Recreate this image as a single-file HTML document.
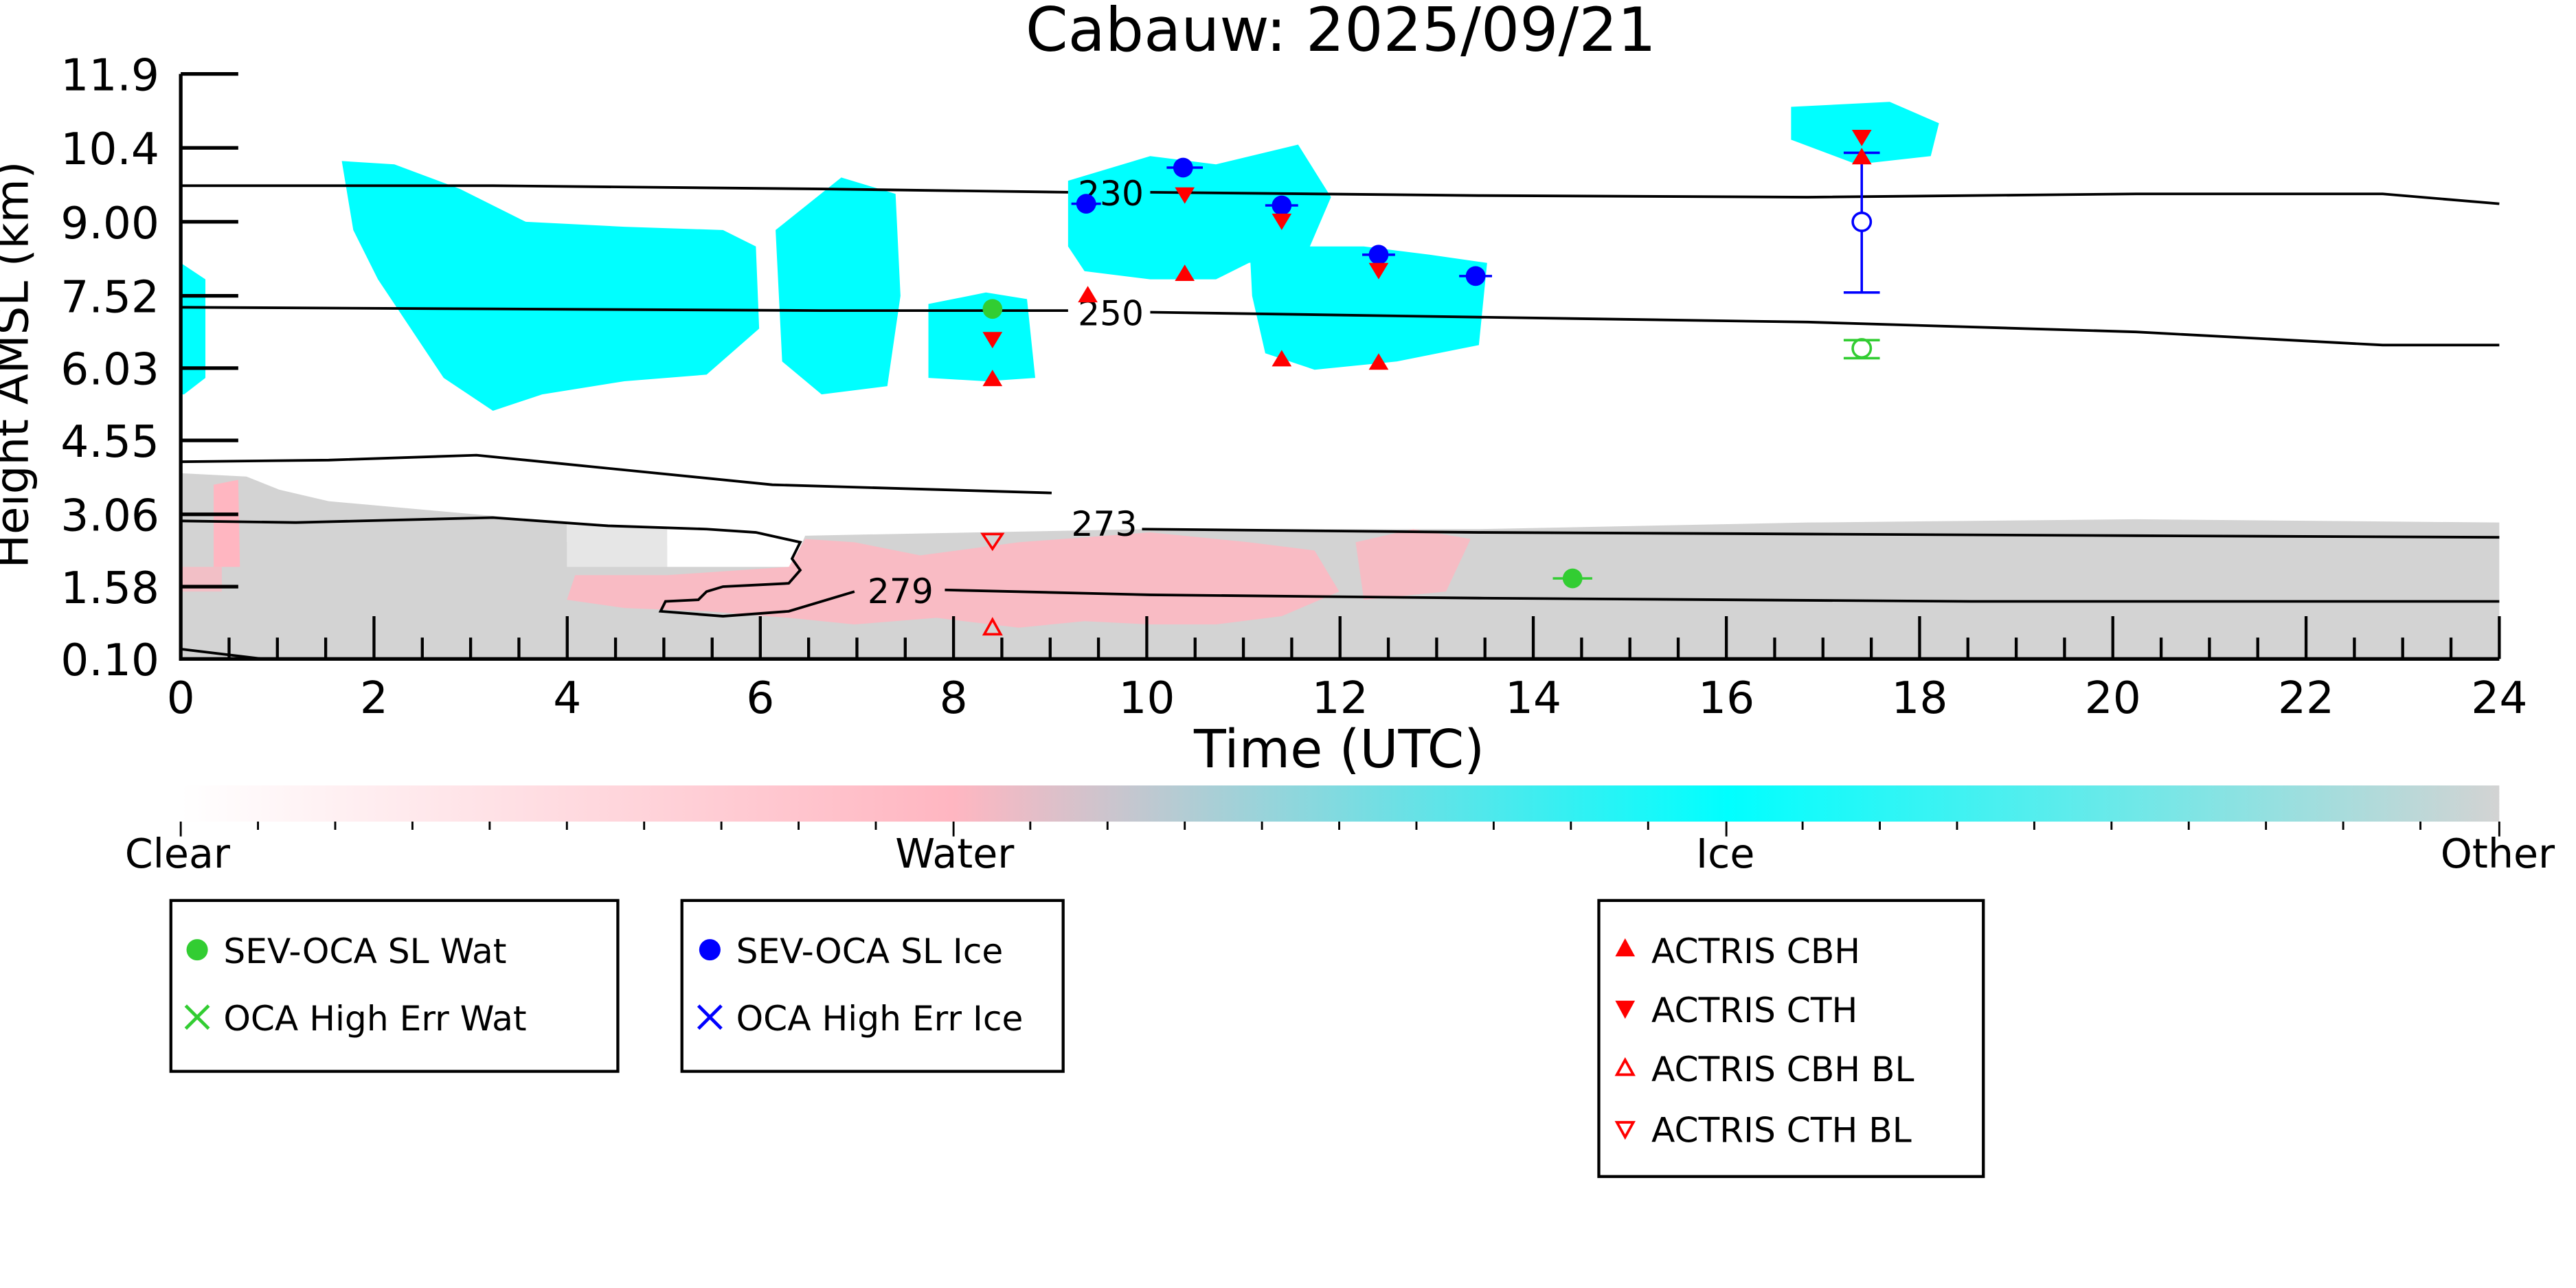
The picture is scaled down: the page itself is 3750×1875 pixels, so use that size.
<!DOCTYPE html>
<html><head><meta charset="utf-8"><style>html,body{margin:0;padding:0;background:#fff}svg{display:block}</style></head><body>
<svg width="3750" height="1875" viewBox="0 0 1562.5 781.25" xmlns="http://www.w3.org/2000/svg" font-family="'DejaVu Sans','Liberation Sans',sans-serif">
<defs>
<linearGradient id="cb" x1="0" x2="1" y1="0" y2="0">
<stop offset="0" stop-color="#ffffff"/><stop offset="0.333" stop-color="#ffb6c1"/><stop offset="0.667" stop-color="#00ffff"/><stop offset="1" stop-color="#d3d3d3"/>
</linearGradient>
</defs>
<g transform="scale(0.9967)">
<text x="816" y="31" font-size="37" text-anchor="middle">Cabauw: 2025/09/21</text>
<!-- gray BL -->
<path d="M110,288 L150,290 L170,298 L200,305 L345,318 L345,330 L406,332 L406,345 L482,345 L490,326 L700,322 L900,322 L1100,318 L1300,316 L1521,318 L1521,401 L110,401 Z" fill="#d3d3d3"/>
<path d="M345,318 L406,322 L406,345 L345,345 Z" fill="#e6e6e6"/>
<path d="M406,350 L480,345 L490,328 L520,330 L560,338 L620,330 L700,324 L760,330 L800,335 L815,360 L780,375 L740,380 L700,380 L660,378 L620,382 L570,376 L520,380 L480,376 L430,372 L380,370 L345,365 L350,350 Z" fill="#ffb6c1" opacity="0.85"/>
<path d="M130,295 L145,292 L146,345 L130,345 Z" fill="#ffb6c1"/>
<path d="M110,345 L135,345 L135,360 L110,360 Z" fill="#ffb6c1" opacity="0.7"/>
<path d="M825,330 L860,322 L895,328 L880,360 L830,365 Z" fill="#ffb6c1" opacity="0.8"/>
<!-- cyan clouds -->
<path d="M110,160 L125,170 L125,230 L112,240 L110,240 Z" fill="#00ffff"/>
<path d="M208,98 L240,100 L280,115 L320,135 L380,138 L440,140 L460,150 L462,200 L430,228 L380,232 L330,240 L300,250 L270,230 L250,200 L230,170 L215,140 Z" fill="#00ffff"/>
<path d="M472,140 L512,108 L545,118 L548,180 L540,235 L500,240 L476,220 Z" fill="#00ffff"/>
<path d="M565,185 L600,178 L625,182 L630,230 L600,232 L565,230 Z" fill="#00ffff"/>
<path d="M650,110 L700,95 L740,100 L790,88 L810,120 L795,155 L760,160 L740,170 L700,170 L660,165 L650,150 Z" fill="#00ffff"/>
<path d="M760,140 L790,150 L830,150 L870,155 L905,160 L900,210 L850,220 L800,225 L770,215 L762,180 Z" fill="#00ffff"/>
<path d="M1090,65 L1150,62 L1180,75 L1175,95 L1130,100 L1090,85 Z" fill="#00ffff"/>
<!-- contours -->
<g fill="none" stroke="#000" stroke-width="1.6">
<path d="M110,113 L300,113 L500,115 L650,117 M700,117 L900,119 L1100,120 L1300,118 L1450,118 L1521,124"/>
<path d="M110,187 L300,188 L500,189 L650,189 M700,190 L900,193 L1100,196 L1300,202 L1450,210 L1521,210"/>
<path d="M110,281 L200,280 L290,277 L340,282 L470,295 L640,300 M695,322 L900,324 L1100,325 L1300,326 L1521,327"/>
<path d="M110,317 L180,318 L300,315 L370,320 L430,322 L460,324 L487,330 L482,340 L487,347 L480,355 L440,357 L430,360 L425,365 L405,366 L402,372 L440,375 L480,372 L520,360"/>
<path d="M575,359 L700,362 L900,364 L1200,366 L1521,366"/>
<path d="M110,395 L160,401"/>
</g>
<g font-size="21" text-anchor="middle">
<text x="676" y="125">230</text><text x="676" y="198">250</text><text x="672" y="326">273</text><text x="548" y="367">279</text>
</g>
<!-- axes -->
<g stroke="#000" stroke-width="2.2">
<line x1="110" y1="45" x2="110" y2="402"/><line x1="109" y1="401" x2="1521" y2="401"/>
<line x1="110" y1="45" x2="145" y2="45"/><line x1="110" y1="90" x2="145" y2="90"/><line x1="110" y1="135" x2="145" y2="135"/><line x1="110" y1="180" x2="145" y2="180"/><line x1="110" y1="224" x2="145" y2="224"/><line x1="110" y1="268" x2="145" y2="268"/><line x1="110" y1="313" x2="145" y2="313"/><line x1="110" y1="357" x2="145" y2="357"/>
</g>
<g stroke="#000" stroke-width="1.8">
<path d="M227.6,375V401M345.2,375V401M462.7,375V401M580.3,375V401M697.9,375V401M815.5,375V401M933.1,375V401M1050.6,375V401M1168.2,375V401M1285.8,375V401M1403.4,375V401M1521,375V401"/>
<path d="M139.4,388V401M168.8,388V401M198.2,388V401M257,388V401M286.4,388V401M315.8,388V401M374.6,388V401M404,388V401M433.4,388V401M492.1,388V401M521.5,388V401M550.9,388V401M609.7,388V401M639.1,388V401M668.5,388V401M727.3,388V401M756.7,388V401M786.1,388V401M844.9,388V401M874.3,388V401M903.7,388V401M962.5,388V401M991.9,388V401M1021.3,388V401M1080,388V401M1109.4,388V401M1138.8,388V401M1197.6,388V401M1227,388V401M1256.4,388V401M1315.2,388V401M1344.6,388V401M1374,388V401M1432.8,388V401M1462.2,388V401M1491.6,388V401"/>
</g>
<g font-size="27" text-anchor="end">
<text x="97" y="55">11.9</text><text x="97" y="100">10.4</text><text x="97" y="145">9.00</text><text x="97" y="190">7.52</text><text x="97" y="234">6.03</text><text x="97" y="278">4.55</text><text x="97" y="323">3.06</text><text x="97" y="367">1.58</text><text x="97" y="411">0.10</text>
</g>
<g font-size="27" text-anchor="middle">
<text x="110" y="434">0</text><text x="227.6" y="434">2</text><text x="345.2" y="434">4</text><text x="462.7" y="434">6</text><text x="580.3" y="434">8</text><text x="697.9" y="434">10</text><text x="815.5" y="434">12</text><text x="933.1" y="434">14</text><text x="1050.6" y="434">16</text><text x="1168.2" y="434">18</text><text x="1285.8" y="434">20</text><text x="1403.4" y="434">22</text><text x="1521" y="434">24</text>
</g>
<text x="815" y="467" font-size="32" text-anchor="middle">Time (UTC)</text>
<text transform="translate(17,222) rotate(-90)" font-size="27.5" text-anchor="middle">Height AMSL (km)</text>
<!-- markers -->
<g fill="#0000ff">
<circle cx="661" cy="124" r="6"/><circle cx="720" cy="102" r="6"/><circle cx="780" cy="125" r="6"/><circle cx="839" cy="155" r="6"/><circle cx="898" cy="168" r="6"/>
</g>
<g stroke="#0000ff" stroke-width="1.5" fill="none">
<path d="M652,124H670M710,102H732M770,125H790M829,155H849M888,168H908"/>
<path d="M1133,93V178M1122,93H1144M1122,178H1144"/>
<circle cx="1133" cy="135" r="5.5" fill="#fff"/>
</g>
<circle cx="604" cy="188" r="6" fill="#32cd32"/>
<circle cx="957" cy="352" r="6" fill="#32cd32"/>
<path d="M945,352H969" stroke="#32cd32" stroke-width="1.5"/>
<g stroke="#32cd32" stroke-width="1.5" fill="none"><path d="M1122,207H1144M1122,218H1144"/><circle cx="1133" cy="212" r="5.5"/></g>
<g fill="#ff0000">
<path d="M662,174l-6,10h12z M604,225l-6,10h12z M721,161l-6,10h12z M780,213l-6,10h12z M839,215l-6,10h12z M1133,90l-6,10h12z"/>
<path d="M598,202h12l-6,10z M715,114h12l-6,10z M774,130h12l-6,10z M833,160h12l-6,10z M1127,79h12l-6,10z"/>
</g>
<g fill="none" stroke="#ff0000" stroke-width="1.5"><path d="M598,325h12l-6,9z M604,377l-5,9h10z"/></g>
<!-- colorbar -->
<rect x="110" y="478" width="1411" height="22" fill="url(#cb)"/>
<g stroke="#000" stroke-width="1.2">
<path d="M110,500V509M580.3,500V509M1050.6,500V509M1521,500V509"/>
<path d="M157,500V505M204,500V505M251,500V505M298,500V505M345,500V505M392,500V505M439,500V505M486,500V505M533,500V505M627,500V505M674,500V505M721,500V505M768,500V505M815,500V505M862,500V505M909,500V505M956,500V505M1003,500V505M1097,500V505M1144,500V505M1191,500V505M1238,500V505M1285,500V505M1332,500V505M1379,500V505M1426,500V505M1473,500V505"/>
</g>
<g font-size="24.5" text-anchor="middle"><text x="108" y="528">Clear</text><text x="581" y="528">Water</text><text x="1050" y="528">Ice</text><text x="1520" y="528">Other</text></g>
<!-- legends -->
<g fill="none" stroke="#000" stroke-width="1.8">
<rect x="104" y="548" width="272" height="104"/><rect x="415" y="548" width="232" height="104"/><rect x="973" y="548" width="234" height="168"/>
</g>
<g font-size="21">
<circle cx="120" cy="578" r="6.5" fill="#32cd32"/><text x="136" y="586">SEV-OCA SL Wat</text>
<path d="M113,612l14,14M127,612l-14,14" stroke="#32cd32" stroke-width="2"/><text x="136" y="627">OCA High Err Wat</text>
<circle cx="432" cy="578" r="6.5" fill="#0000ff"/><text x="448" y="586">SEV-OCA SL Ice</text>
<path d="M425,612l14,14M439,612l-14,14" stroke="#0000ff" stroke-width="2"/><text x="448" y="627">OCA High Err Ice</text>
<path d="M989,571l-6,11h12z" fill="#ff0000"/><text x="1005" y="586">ACTRIS CBH</text>
<path d="M983,609h12l-6,11z" fill="#ff0000"/><text x="1005" y="622">ACTRIS CTH</text>
<path d="M989,645l-5,9h10z" fill="none" stroke="#ff0000" stroke-width="1.6"/><text x="1005" y="658">ACTRIS CBH BL</text>
<path d="M984,683h10l-5,9z" fill="none" stroke="#ff0000" stroke-width="1.6"/><text x="1005" y="695">ACTRIS CTH BL</text>
</g>
</g>
</svg>
</body></html>
